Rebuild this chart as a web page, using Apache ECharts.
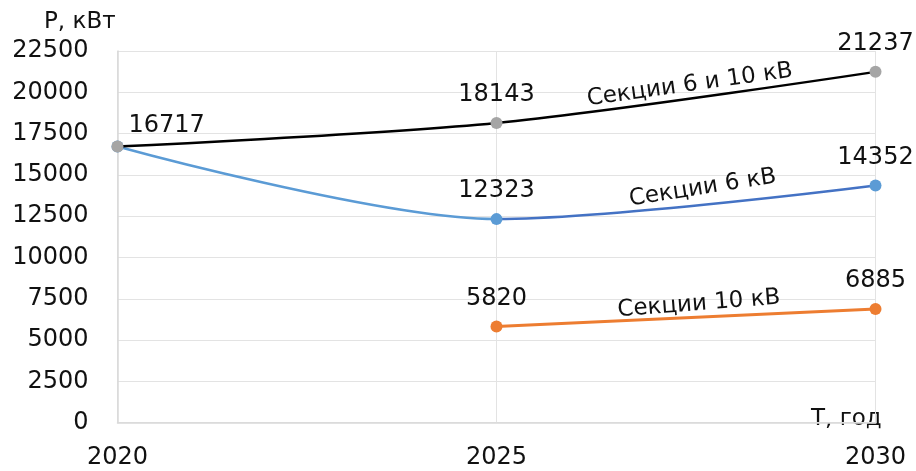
<!DOCTYPE html>
<html>
<head>
<meta charset="utf-8">
<script src="https://cdn.jsdelivr.net/npm/echarts@6/dist/echarts.min.js"></script>
<style>
html,body{margin:0;padding:0;background:#fff;}
#chart{width:916px;height:471px;}
</style>
</head>
<body>
<div id="chart"></div>
<script>
const years = [2020, 2025, 2030];
const sec6and10 = [16717, 18143, 21237];
const sec6 = [16717, 12323, 14352];
const sec10 = [null, 5820, 6885];
const seriesNames = ['Секции 6 и 10 кВ', 'Секции 6 кВ', 'Секции 10 кВ'];
const yMin = 0, yMax = 22500, yStep = 2500;
const xMin = 2020, xMax = 2030, xStep = 5;

const FONT = 'DejaVu Sans';
const FS = 24;
const TXT = '#111';

function pairs(vals) {
  const out = [];
  years.forEach((y, i) => { if (vals[i] !== null) out.push([y, vals[i]]); });
  return out;
}

const labelBase = {
  show: true, position: 'top', distance: 10,
  fontFamily: FONT, fontSize: FS, color: TXT,
  formatter: p => String(p.value[1])
};

function nameMark(text, coord, angle) {
  return {
    symbol: 'circle', symbolSize: 0, silent: true,
    data: [{ coord: coord, value: text }],
    label: { show: true, position: 'inside', rotate: angle, fontFamily: FONT, fontSize: FS - 1, color: TXT, formatter: text }
  };
}

const blackData = pairs(sec6and10).map((d, i) => i === 0
  ? { value: d, label: { position: 'right', offset: [-5, -21], align: 'left' } } : { value: d });
const blueData = pairs(sec6).map((d, i) => i === 0 ? { value: d, label: { show: false } } : { value: d });

const chart = echarts.init(document.getElementById('chart'));
chart.setOption({
  backgroundColor: '#fff',
  animation: false,
  grid: { left: 117.5, right: 40.5, top: 51, bottom: 48.3, containLabel: false },
  xAxis: {
    type: 'value', min: xMin, max: xMax, interval: xStep,
    axisLine: { show: true, lineStyle: { color: '#d9d9d9', width: 1.5 } },
    axisTick: { show: false },
    splitLine: { show: true, lineStyle: { color: '#e3e3e3', width: 1 } },
    axisLabel: { margin: 23, fontFamily: FONT, fontSize: FS, color: TXT, formatter: v => String(v) }
  },
  yAxis: {
    type: 'value', min: yMin, max: yMax, interval: yStep,
    axisLine: { show: true, lineStyle: { color: '#d9d9d9', width: 1.5 } },
    axisTick: { show: false },
    splitLine: { show: true, lineStyle: { color: '#e3e3e3', width: 1 } },
    axisLabel: { margin: 29, fontFamily: FONT, fontSize: FS, color: TXT, formatter: v => String(v) }
  },
  graphic: [
    { type: 'text', left: 44, top: 11, style: { text: 'P, кВт', font: (FS - 1) + 'px "DejaVu Sans"', fill: TXT } },
    { type: 'text', left: 811, top: 408, style: { text: 'T, год', font: (FS - 1) + 'px "DejaVu Sans"', fill: TXT } }
  ],
  series: [
    {
      name: seriesNames[2], type: 'line', data: pairs(sec10), z: 2,
      symbol: 'circle', symbolSize: 12,
      lineStyle: { color: '#ED7D31', width: 3 },
      itemStyle: { color: '#ED7D31' },
      label: labelBase,
      markPoint: nameMark(seriesNames[2], [2027.67, 7185], 4.5)
    },
    {
      name: seriesNames[1], type: 'line', data: blueData, z: 3,
      smooth: 0.3, smoothConstraint: false,
      symbol: 'circle', symbolSize: 12,
      lineStyle: { width: 2.5, color: {
        type: 'linear', x: 0, y: 0, x2: 1, y2: 0,
        colorStops: [
          { offset: 0, color: '#5B9BD5' }, { offset: 0.5, color: '#5B9BD5' },
          { offset: 0.5, color: '#4472C4' }, { offset: 1, color: '#4472C4' }
        ] } },
      itemStyle: { color: '#5B9BD5' },
      label: labelBase,
      markPoint: nameMark(seriesNames[1], [2027.72, 14206], 9)
    },
    {
      name: seriesNames[0], type: 'line', data: blackData, z: 4,
      smooth: 0.3,
      symbol: 'circle', symbolSize: 12,
      lineStyle: { color: '#000', width: 2.5 },
      itemStyle: { color: '#A5A5A5' },
      label: labelBase,
      markPoint: nameMark(seriesNames[0], [2027.55, 20442], 8)
    }
  ]
});
</script>
</body>
</html>
